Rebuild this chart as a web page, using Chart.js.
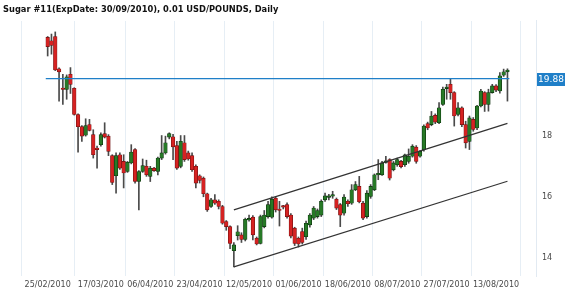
<!DOCTYPE html>
<html><head><meta charset="utf-8">
<script src="https://cdn.jsdelivr.net/npm/chart.js@4"></script>
<style>html,body{margin:0;padding:0;background:#fff;}canvas{display:block}</style>
</head><body>
<canvas id="c" width="570" height="296"></canvas>
<script>
const dates = [
'25/02/2010','26/02/2010',
'01/03/2010','02/03/2010','03/03/2010','04/03/2010','05/03/2010','08/03/2010','09/03/2010','10/03/2010','11/03/2010','12/03/2010','15/03/2010','16/03/2010','17/03/2010','18/03/2010','19/03/2010','22/03/2010','23/03/2010','24/03/2010','25/03/2010','26/03/2010','29/03/2010','30/03/2010','31/03/2010',
'01/04/2010','05/04/2010','06/04/2010','07/04/2010','08/04/2010','09/04/2010','12/04/2010','13/04/2010','14/04/2010','15/04/2010','16/04/2010','19/04/2010','20/04/2010','21/04/2010','22/04/2010','23/04/2010','26/04/2010','27/04/2010','28/04/2010','29/04/2010','30/04/2010',
'03/05/2010','04/05/2010','05/05/2010','06/05/2010','07/05/2010','10/05/2010','11/05/2010','12/05/2010','13/05/2010','14/05/2010','17/05/2010','18/05/2010','19/05/2010','20/05/2010','21/05/2010','24/05/2010','25/05/2010','26/05/2010','27/05/2010','28/05/2010',
'01/06/2010','02/06/2010','03/06/2010','04/06/2010','07/06/2010','08/06/2010','09/06/2010','10/06/2010','11/06/2010','14/06/2010','15/06/2010','16/06/2010','17/06/2010','18/06/2010','21/06/2010','22/06/2010','23/06/2010','24/06/2010','25/06/2010','28/06/2010','29/06/2010','30/06/2010',
'01/07/2010','02/07/2010','06/07/2010','07/07/2010','08/07/2010','09/07/2010','12/07/2010','13/07/2010','14/07/2010','15/07/2010','16/07/2010','19/07/2010','20/07/2010','21/07/2010','22/07/2010','23/07/2010','26/07/2010','27/07/2010','28/07/2010','29/07/2010','30/07/2010',
'02/08/2010','03/08/2010','04/08/2010','05/08/2010','06/08/2010','09/08/2010','10/08/2010','11/08/2010','12/08/2010','13/08/2010','16/08/2010','17/08/2010','18/08/2010'];

const openP = [21.23,21.12,21.26,20.2,19.55,19.52,20.02,19.56,18.7,18.3,
18.02,18.37,18.04,17.6,17.71,18.07,17.99,17.35,16.69,17.38,
17.16,16.83,17.11,17.55,16.5,16.83,17.0,16.67,16.94,16.83,
17.27,17.44,17.96,17.97,17.68,17.0,17.77,17.44,17.35,17.0,
16.69,16.61,16.1,15.68,15.9,15.85,15.68,15.19,15.02,14.23,
14.72,14.75,14.6,15.24,15.33,14.64,14.47,15.02,15.35,15.33,
15.95,15.6,15.67,15.74,15.4,14.97,14.64,14.86,14.69,15.08,
15.3,15.35,15.4,15.9,15.98,16.02,15.92,15.74,15.46,15.85,
15.79,16.23,16.34,15.79,15.35,16.01,16.23,16.72,16.72,17.13,
17.22,16.89,17.05,17.16,17.05,17.16,17.33,17.63,17.33,17.55,
18.4,18.37,18.67,18.43,19.03,19.55,19.69,19.42,18.7,18.92,
18.37,17.82,18.54,18.26,18.98,19.42,19.03,19.42,19.64,19.47,
19.99,20.1];
const highP = [21.26,21.34,21.41,20.23,20.02,20.0,20.24,19.58,18.72,18.34,
18.56,18.54,18.2,17.66,18.1,18.43,18.04,17.38,17.44,17.44,
17.38,17.16,17.71,17.58,16.86,17.24,17.2,17.0,16.97,17.3,
18.01,17.99,18.1,18.05,17.82,18.01,18.01,17.5,17.44,17.05,
16.72,16.65,16.12,15.95,16.07,15.9,15.72,15.22,15.05,14.5,
15.05,14.82,15.3,15.4,15.38,14.68,15.4,15.55,15.85,16.0,
16.0,15.85,15.72,15.8,15.45,15.0,14.68,14.97,15.2,15.45,
15.68,15.6,15.9,16.12,16.08,16.18,15.96,15.78,16.07,15.9,
16.4,16.5,16.67,15.85,16.2,16.4,16.75,17.22,17.16,17.33,
17.25,17.16,17.27,17.2,17.4,17.57,17.71,17.68,17.52,18.36,
18.45,18.8,18.72,19.09,19.6,19.69,19.86,19.45,19.09,18.95,
18.48,18.65,18.6,19.0,19.53,19.45,19.53,19.69,19.68,20.08,
20.19,20.2];
const lowP = [20.62,20.68,20.14,19.14,19.03,19.2,19.39,18.68,17.46,17.82,
17.99,18.16,17.27,16.94,17.66,17.93,17.35,16.4,16.12,16.9,
16.29,16.8,17.08,16.45,15.57,16.8,16.67,16.5,16.83,16.72,
17.22,17.4,17.9,17.22,16.9,16.95,17.16,17.2,16.83,16.29,
16.45,16.0,15.52,15.65,15.75,15.6,15.1,14.9,14.3,13.7,
14.58,14.5,14.55,15.2,14.58,14.42,14.45,14.98,15.3,15.3,
15.5,15.04,15.6,15.3,14.65,14.4,14.35,14.45,14.6,15.0,
15.25,15.3,15.35,15.85,15.9,15.95,15.58,15.02,15.4,15.68,
15.75,16.2,15.8,15.25,15.3,15.95,16.2,16.56,16.7,17.1,
16.55,16.85,17.0,16.95,17.0,17.1,17.3,17.1,17.3,17.5,
18.2,18.33,18.4,18.4,19.0,19.2,19.2,18.32,18.65,18.3,
17.6,17.55,18.15,18.2,18.95,18.8,18.81,19.4,19.45,19.4,
19.95,19.14];
const closeP = [20.93,20.97,20.16,20.1,19.52,19.94,19.69,18.7,18.3,17.99,
18.34,18.18,17.38,17.55,18.04,17.96,17.49,16.47,17.35,16.94,
16.78,17.13,17.47,16.5,16.83,17.02,16.72,16.94,16.86,17.27,
17.44,17.77,18.07,17.64,16.94,17.82,17.22,17.24,16.89,16.45,
16.54,16.1,15.57,15.9,15.79,15.68,15.13,15.02,14.47,14.42,
14.85,14.6,15.26,15.29,14.75,14.45,15.35,15.4,15.74,15.92,
15.57,15.55,15.66,15.35,14.71,14.47,14.45,14.5,15.13,15.4,
15.63,15.55,15.85,16.03,16.03,16.07,15.63,15.4,15.99,15.77,
16.23,16.4,15.84,15.3,16.12,16.34,16.72,16.74,17.11,17.16,
16.61,17.11,17.22,16.99,17.38,17.33,17.66,17.16,17.49,18.32,
18.26,18.65,18.45,18.92,19.53,19.58,19.42,18.65,18.92,18.37,
17.77,18.59,18.21,18.98,19.47,19.03,19.42,19.64,19.5,19.97,
20.1,20.16];

const tickLabels = ['25/02/2010','17/03/2010','06/04/2010','23/04/2010','12/05/2010','01/06/2010','18/06/2010','08/07/2010','27/07/2010','13/08/2010'];
const yTicks = [14, 16, 18];
const lastPrice = 19.88;
const channelDates = ['06/05/2010', '18/08/2010'];
const channelUpper = [15.57, 18.41];
const channelLower = [13.70, 16.51];
const titleText = 'Sugar #11(ExpDate: 30/09/2010), 0.01 USD/POUNDS, Daily';

const X_MIN = -4.74, X_MAX = 121.5;
const UP = '#277a27', UP_EDGE = '#0b2e0b', DOWN = '#d62222', DOWN_EDGE = '#6e1010';
const BLUE = '#1f7fc8';

const idx = d => dates.indexOf(d);
const bodyColors = closeP.map((c, i) => c >= openP[i] ? UP : DOWN);
const edgeColors = closeP.map((c, i) => c >= openP[i] ? UP_EDGE : DOWN_EDGE);

const priceLabel = {
  id: 'priceLabel',
  afterDraw(chart) {
    const {ctx, chartArea, scales} = chart;
    const y = scales.y.getPixelForValue(lastPrice);
    const x0 = chartArea.right + 1;
    ctx.save();
    ctx.fillStyle = BLUE;
    ctx.fillRect(x0, Math.round(y) - 6, 28, 13);
    ctx.fillStyle = '#ffffff';
    ctx.font = '9px "DejaVu Sans"';
    ctx.textAlign = 'center';
    ctx.textBaseline = 'middle';
    ctx.fillText(lastPrice.toFixed(2), x0 + 14, Math.round(y) + 0.5);
    ctx.restore();
  }
};

new Chart(document.getElementById('c'), {
  data: {
    datasets: [
      { type: 'line', data: [{x: -0.5, y: lastPrice}, {x: X_MAX, y: lastPrice}], borderColor: BLUE, borderWidth: 1.3, pointRadius: 0, order: 0 },
      { type: 'line', data: channelDates.map((d, k) => ({x: idx(d), y: channelUpper[k]})), borderColor: '#333333', borderWidth: 1.2, pointRadius: 0, order: 1 },
      { type: 'line', data: channelDates.map((d, k) => ({x: idx(d), y: channelLower[k]})), borderColor: '#333333', borderWidth: 1.2, pointRadius: 0, order: 1 },
      { type: 'bar', data: dates.map((d, i) => ({x: i, y: [openP[i], closeP[i]]})), backgroundColor: bodyColors, borderColor: edgeColors, borderWidth: 0.6, borderSkipped: false, barThickness: 3.6, minBarLength: 1.5, grouped: false, order: 2 },
      { type: 'bar', data: dates.map((d, i) => ({x: i, y: [lowP[i], highP[i]]})), backgroundColor: '#4a4a4a', barThickness: 1, grouped: false, order: 3 }
    ]
  },
  options: {
    responsive: false, animation: false, devicePixelRatio: 1,
    layout: { padding: { left: 3, right: 0, top: 0, bottom: 0 } },
    plugins: {
      legend: { display: false }, tooltip: { enabled: false },
      title: { display: true, text: titleText, align: 'start', color: '#111111',
        font: { family: '"DejaVu Sans"', size: 8.3, weight: 'bold' }, padding: { top: 5, bottom: 6 } }
    },
    scales: {
      x: {
        type: 'linear', min: X_MIN, max: X_MAX,
        afterBuildTicks: s => { s.ticks = tickLabels.map(l => ({ value: idx(l) })); },
        afterFit: s => { s.height = 20; },
        ticks: { callback: v => dates[v] || '', autoSkip: false, maxRotation: 0, padding: 4, color: '#4a4a4a', font: { family: '"DejaVu Sans"', size: 8 } },
        grid: { color: '#e6eef5', drawTicks: false, lineWidth: 1 },
        border: { display: false }
      },
      y: {
        type: 'linear', position: 'right', min: 13.4, max: 21.77,
        afterBuildTicks: s => { s.ticks = yTicks.map(v => ({ value: v })); },
        afterFit: s => { s.width = 34; },
        ticks: { padding: 6, color: '#4a4a4a', font: { family: '"DejaVu Sans"', size: 8 } },
        grid: { display: false, drawTicks: false },
        border: { display: true, color: '#e2eaf2' }
      }
    }
  },
  plugins: [priceLabel]
});
</script>
</body></html>
